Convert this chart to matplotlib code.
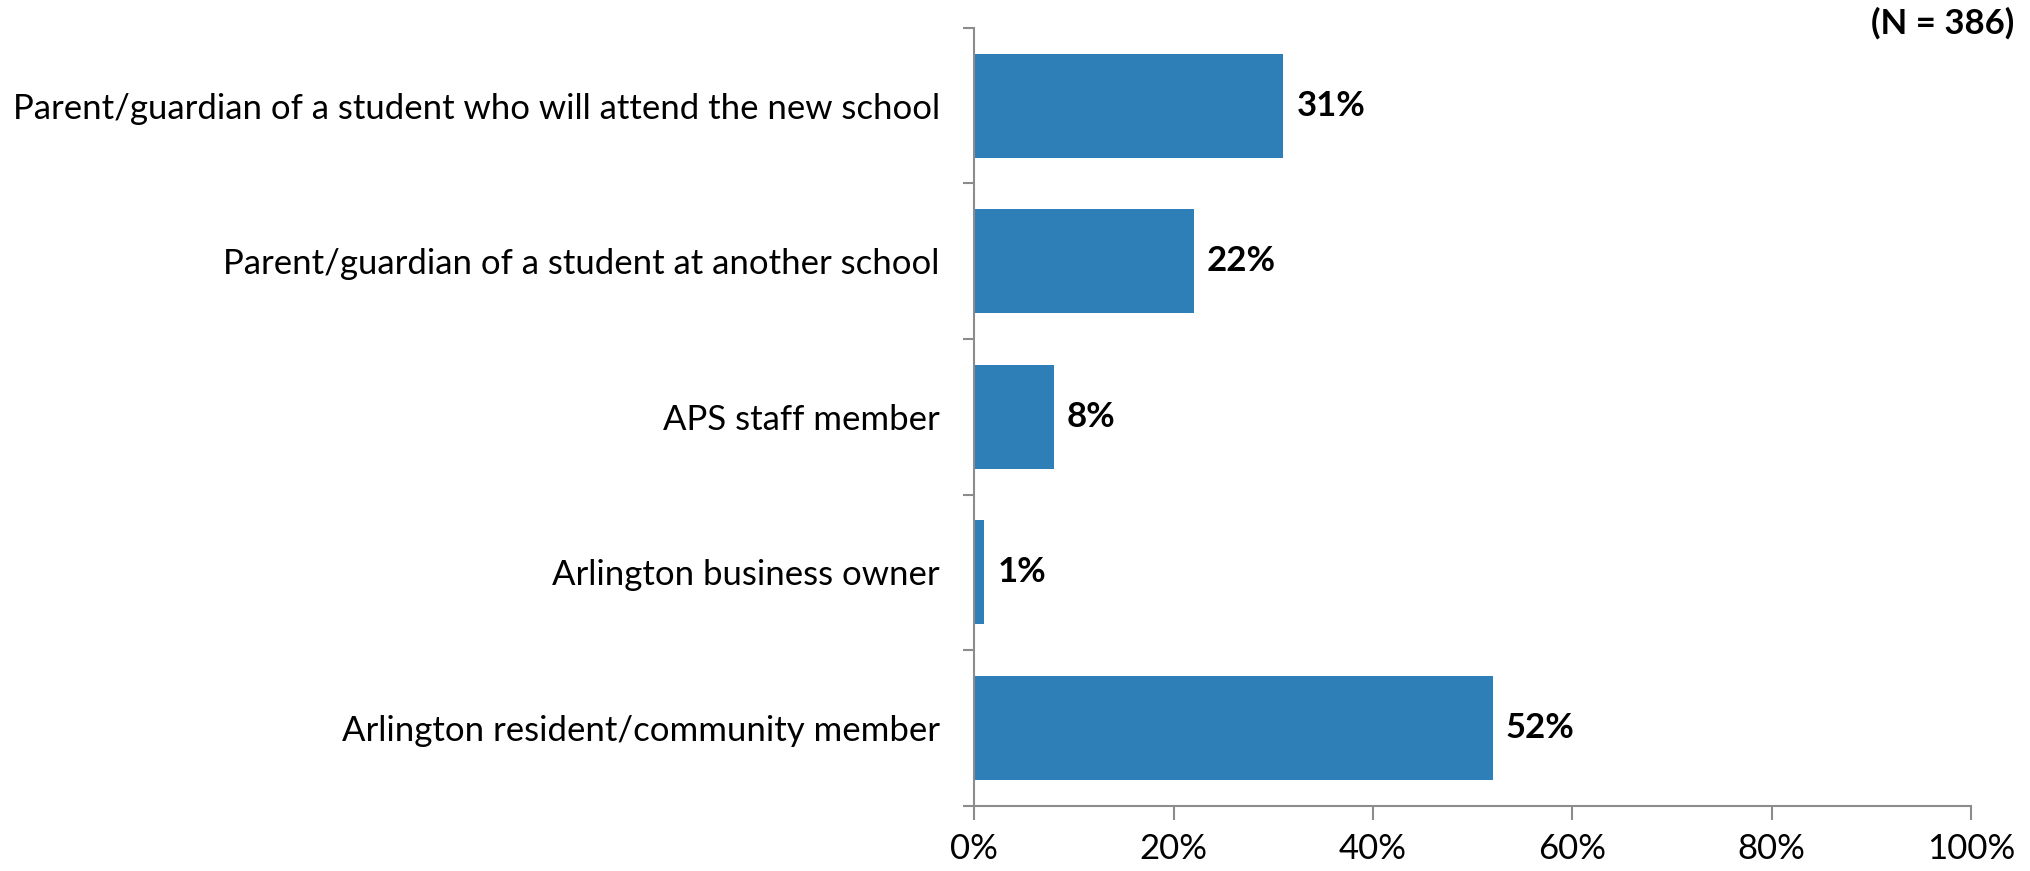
import matplotlib.pyplot as plt
from matplotlib.ticker import FuncFormatter

plt.rcParams['font.family'] = ['Lato', 'DejaVu Sans']

# Respondent groups (top to bottom)
categories = [
    'Parent/guardian of a student who will attend the new school',
    'Parent/guardian of a student at another school',
    'APS staff member',
    'Arlington business owner',
    'Arlington resident/community member',
]
values = [31, 22, 8, 1, 52]
xticks = [0, 20, 40, 60, 80, 100]

fig = plt.figure(figsize=(20.3, 8.71), dpi=100)
ax = fig.add_axes([0.48, 0.075, 0.491, 0.893])

pos = list(range(len(categories)))
ax.barh(pos, values, height=0.67, color='#2E7EB8')

for p, v in zip(pos, values):
    ax.text(v + 1.3, p, f'{v}%', va='center', ha='left', fontsize=25, fontweight='bold')

ax.set_xlim(0, 100)
ax.set_ylim(len(categories) - 0.5, -0.5)
ax.set_xticks(xticks)
ax.xaxis.set_major_formatter(FuncFormatter(lambda x, p: f'{x:.0f}%'))

ax.set_yticks(pos)
ax.set_yticklabels(categories)
ax.set_yticks([i - 0.5 for i in range(len(categories) + 1)], minor=True)
ax.tick_params(axis='y', which='major', length=0, pad=25, labelsize=25)
ax.tick_params(axis='y', which='minor', length=8, width=1.5, color='#8c8c8c')
ax.tick_params(axis='x', length=10, width=1.5, color='#8c8c8c', labelsize=25, pad=10)

for s in ['top', 'right']:
    ax.spines[s].set_visible(False)
for s in ['left', 'bottom']:
    ax.spines[s].set_color('#8c8c8c')
    ax.spines[s].set_linewidth(1.5)

fig.text(0.992, 0.973, '(N = 386)', ha='right', va='center', fontsize=25, fontweight='bold')

plt.savefig('out.png', dpi=100)
